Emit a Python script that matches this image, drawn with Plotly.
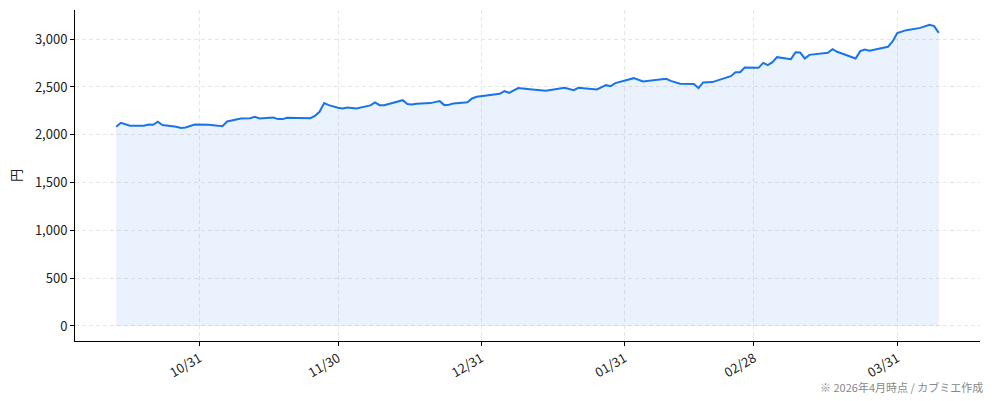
import plotly.graph_objects as go

# price history (円)
dates = [
    "2025-10-13", "2025-10-14", "2025-10-16", "2025-10-19", "2025-10-20", "2025-10-21",
    "2025-10-22", "2025-10-23", "2025-10-26", "2025-10-27", "2025-10-28", "2025-10-30",
    "2025-11-02", "2025-11-05", "2025-11-06", "2025-11-09", "2025-11-11", "2025-11-12",
    "2025-11-13", "2025-11-16", "2025-11-17", "2025-11-18", "2025-11-19", "2025-11-24",
    "2025-11-25", "2025-11-26", "2025-11-27", "2025-11-28", "2025-11-30", "2025-12-01",
    "2025-12-02", "2025-12-04", "2025-12-07", "2025-12-08", "2025-12-09", "2025-12-10",
    "2025-12-14", "2025-12-15", "2025-12-16", "2025-12-17", "2025-12-20", "2025-12-22",
    "2025-12-23", "2025-12-24", "2025-12-25", "2025-12-28", "2025-12-29", "2025-12-30",
    "2026-01-04", "2026-01-05", "2026-01-06", "2026-01-08", "2026-01-11", "2026-01-14",
    "2026-01-18", "2026-01-20", "2026-01-21", "2026-01-25", "2026-01-27", "2026-01-28",
    "2026-01-29", "2026-02-02", "2026-02-04", "2026-02-09", "2026-02-10", "2026-02-12",
    "2026-02-15", "2026-02-16", "2026-02-17", "2026-02-19", "2026-02-23", "2026-02-24",
    "2026-02-25", "2026-02-26", "2026-03-01", "2026-03-02", "2026-03-03", "2026-03-04",
    "2026-03-05", "2026-03-08", "2026-03-09", "2026-03-10", "2026-03-11", "2026-03-12",
    "2026-03-16", "2026-03-17", "2026-03-18", "2026-03-22", "2026-03-23", "2026-03-24",
    "2026-03-25", "2026-03-29", "2026-03-30", "2026-03-31", "2026-04-02", "2026-04-05",
    "2026-04-07", "2026-04-08", "2026-04-09",
]
prices = [
    2083, 2125, 2094, 2094, 2108, 2104,
    2136, 2101, 2083, 2070, 2077, 2108,
    2104, 2090, 2139, 2171, 2174, 2188,
    2171, 2181, 2164, 2164, 2178, 2174,
    2198, 2240, 2331, 2310, 2282, 2275,
    2286, 2275, 2307, 2338, 2310, 2310,
    2362, 2321, 2317, 2324, 2331, 2352,
    2310, 2314, 2328, 2341, 2380, 2397,
    2429, 2456, 2439, 2488, 2474, 2460,
    2491, 2467, 2491, 2474, 2519, 2509,
    2540, 2592, 2557, 2585, 2564, 2533,
    2530, 2488, 2547, 2551, 2613, 2655,
    2655, 2704, 2700, 2752, 2728, 2760,
    2812, 2791, 2864, 2861, 2798, 2836,
    2857, 2896, 2868, 2798, 2875, 2892,
    2878, 2920, 2976, 3063, 3094, 3118,
    3150, 3136, 3066,
]

tick_dates = ["2025-10-31", "2025-11-30", "2025-12-31", "2026-01-31", "2026-02-28", "2026-03-31"]
tick_labels = ["10/31", "11/30", "12/31", "01/31", "02/28", "03/31"]
y_ticks = [0, 500, 1000, 1500, 2000, 2500, 3000]

font = "Noto Sans CJK JP"

fig = go.Figure()
fig.add_trace(go.Scatter(
    x=dates, y=prices, mode="lines",
    line=dict(color="#1a73e8", width=2),
    fill="tozeroy", fillcolor="rgba(26,115,232,0.09)",
    showlegend=False,
))

fig.update_layout(
    width=994, height=401,
    margin=dict(l=75, r=14, t=10, b=60),
    plot_bgcolor="white", paper_bgcolor="white",
    font=dict(family=font, size=13, color="#222"),
)
fig.update_xaxes(
    range=["2025-10-04 02:00", "2026-04-17 22:00"],
    tickvals=tick_dates, ticktext=tick_labels, tickangle=-30,
    showline=True, linecolor="black", linewidth=1,
    ticks="outside", ticklen=4, tickcolor="black",
    showgrid=True, gridcolor="#e6e6e6", griddash="4px,3px", gridwidth=1,
    zeroline=False, automargin=False,
)
fig.update_yaxes(
    range=[-157, 3305],
    tickvals=y_ticks, tickformat=",",
    showline=True, linecolor="black", linewidth=1,
    ticks="outside", ticklen=4, tickcolor="black",
    showgrid=True, gridcolor="#e6e6e6", griddash="4px,3px", gridwidth=1,
    zeroline=False, automargin=False,
    title=dict(text="円", standoff=10, font=dict(size=13)),
)
fig.add_annotation(
    text="※ 2026年4月時点 / カブミエ作成",
    xref="paper", yref="paper", x=1.006, y=-0.11,
    xanchor="right", yanchor="top", showarrow=False,
    font=dict(size=11, color="#888"),
)

fig.write_html("out.html", config={"displayModeBar": False},
               post_script="document.body.style.margin='0';")
